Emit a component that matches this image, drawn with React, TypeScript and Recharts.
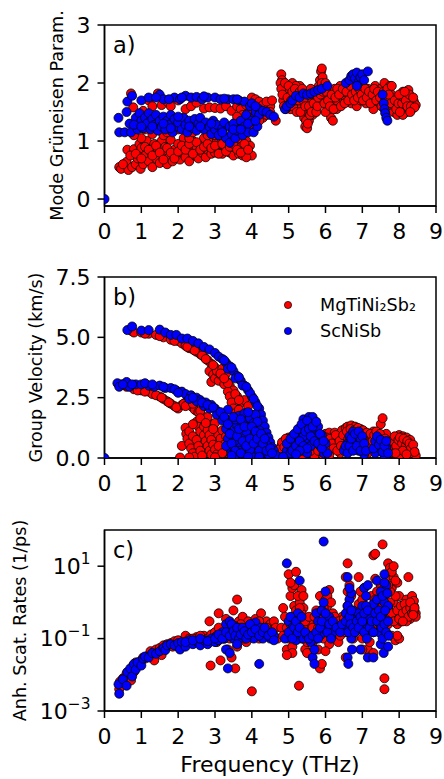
import React from "react";
import { ScatterChart, Scatter, XAxis, YAxis, ZAxis, ReferenceArea, Legend } from "recharts";

type Pt = [number, number];

const FONT = '"DejaVu Sans", sans-serif';
const RED = "#ff0000";
const BLUE = "#0000ff";

const freqTicks = [0, 1, 2, 3, 4, 5, 6, 7, 8, 9];
const gruneisenTicks = [0, 1, 2, 3];
const velocityTicks = [0, 2.5, 5, 7.5];
const rateTicks = [0.001, 0.1, 10];
const seriesNames = ["MgTiNi\u2082Sb\u2082", "ScNiSb"];

// a) mode Grüneisen parameter vs frequency
const gruneisenMg: Pt[] = [
  [0.4, 0.55], [0.45, 0.52], [0.6, 0.64], [0.65, 0.5], [0.62, 0.85], [0.75, 0.55], [0.8, 0.86], [0.85, 0.6],
  [0.9, 0.7], [0.95, 0.95], [0.98, 0.52], [1.0, 0.88], [1.05, 0.6], [1.1, 0.75], [1.15, 1.0], [1.2, 0.65],
  [1.25, 0.82], [1.3, 0.55], [1.35, 0.95], [1.4, 0.7], [1.45, 0.85], [1.5, 0.62], [1.55, 1.0], [1.6, 0.78],
  [1.65, 0.9], [1.7, 0.6], [1.75, 0.72], [1.8, 1.02], [1.85, 0.65], [1.9, 0.85], [1.95, 0.75], [2.0, 0.95],
  [2.05, 0.68], [2.1, 0.8], [2.15, 1.05], [2.2, 0.72], [2.25, 0.9], [2.3, 0.65], [2.35, 0.82], [2.4, 1.0],
  [2.45, 0.75], [2.5, 0.88], [2.55, 0.7], [2.6, 0.95], [2.65, 0.8], [2.7, 1.05], [2.75, 0.72], [2.8, 0.85],
  [2.85, 0.98], [2.9, 0.78], [2.95, 0.9], [3.0, 0.8], [3.05, 1.0], [3.1, 0.85], [3.15, 0.95], [3.2, 0.78],
  [3.3, 0.9], [3.35, 1.05], [3.4, 0.8], [3.45, 0.95], [3.5, 0.75], [3.55, 0.88], [3.6, 1.0], [3.65, 0.78],
  [3.7, 0.9], [3.75, 0.75], [3.8, 0.85], [3.85, 1.0], [3.9, 0.78], [3.95, 0.92], [4.0, 0.75], [3.85, 0.72],
  [0.5, 0.6], [0.7, 0.75], [0.85, 0.78], [1.0, 0.7], [1.1, 0.9], [1.2, 0.85], [1.3, 0.75], [1.4, 0.92],
  [1.5, 0.8], [1.6, 0.68], [1.7, 0.88], [1.8, 0.8], [1.9, 0.7], [2.0, 0.82], [2.1, 0.92], [2.2, 0.85],
  [2.3, 0.95], [2.4, 0.78], [2.5, 0.98], [2.6, 0.85], [2.7, 0.9], [2.8, 0.95], [2.9, 0.88], [3.0, 0.92],
  [3.1, 0.78], [3.2, 0.95], [3.3, 0.82], [3.4, 0.9], [3.5, 0.95], [3.6, 0.85], [3.7, 0.8], [3.8, 0.95],
  [3.9, 0.85], [1.0, 1.05], [1.6, 1.1], [2.3, 1.05], [3.0, 1.1], [3.7, 1.2], [4.3, 1.4], [4.05, 1.6],
  [0.8, 1.1], [0.9, 1.25], [1.0, 1.45], [1.1, 1.2], [1.3, 1.12], [1.5, 1.3], [1.7, 1.15], [2.0, 1.2],
  [2.4, 1.15], [2.8, 1.1], [3.2, 1.2], [3.5, 1.15], [3.6, 1.35], [3.8, 1.4], [3.9, 1.5], [4.0, 1.3],
  [4.1, 1.45], [4.2, 1.35], [4.3, 1.55], [4.4, 1.45], [4.5, 1.6], [4.65, 1.35], [4.5, 1.5],
  [0.72, 1.82], [0.78, 1.58], [1.05, 1.52], [1.2, 1.7], [1.3, 1.6], [1.45, 1.82], [1.55, 1.62], [1.7, 1.68],
  [1.8, 1.6], [2.0, 1.7], [2.2, 1.55], [2.35, 1.6], [2.5, 1.66], [2.7, 1.56], [2.85, 1.58], [3.0, 1.57],
  [3.15, 1.56], [3.3, 1.6], [3.45, 1.52], [3.6, 1.6], [3.7, 1.55], [3.85, 1.62], [4.0, 1.75], [4.1, 1.72],
  [4.2, 1.68], [4.3, 1.62], [4.4, 1.68], [4.55, 1.7], [3.75, 1.45], [3.6, 1.42],
  [4.8, 2.15], [4.82, 2.05], [4.85, 1.95], [4.88, 1.85], [4.9, 1.75], [4.95, 1.65], [4.85, 1.7], [5.0, 1.8],
  [5.05, 1.9], [5.1, 2.0], [5.15, 1.7], [5.2, 1.6], [5.25, 1.85], [5.3, 1.95], [5.35, 1.75], [5.4, 1.55],
  [5.42, 1.4], [5.45, 1.25], [5.5, 1.22], [5.5, 1.5], [5.55, 1.35], [5.6, 1.65], [5.65, 1.8], [5.7, 1.55],
  [5.75, 1.7], [5.8, 1.9], [5.85, 2.05], [5.88, 2.2], [5.9, 2.25], [5.92, 2.1], [5.95, 1.95], [6.0, 1.75],
  [6.05, 1.6], [6.1, 1.5], [6.15, 1.4], [6.2, 1.35], [6.0, 1.5], [6.1, 1.85], [6.2, 1.7], [6.25, 1.9],
  [6.3, 1.8], [6.35, 1.65], [6.4, 1.95], [6.45, 1.75], [6.5, 1.85], [6.55, 1.7], [6.6, 2.0], [6.65, 1.8],
  [6.7, 1.65], [6.75, 1.9], [6.8, 1.75], [6.85, 1.6], [6.9, 1.85], [6.95, 1.7], [7.0, 1.95], [7.05, 1.8],
  [7.1, 1.65], [7.15, 1.9], [7.2, 1.75], [7.25, 1.85], [7.3, 1.7], [7.35, 1.95], [7.4, 1.8], [7.45, 1.65],
  [7.5, 1.9], [7.55, 1.75], [7.6, 2.0], [7.65, 1.85], [7.7, 1.7], [7.75, 1.95], [7.8, 1.8], [7.82, 1.6],
  [7.85, 1.5], [7.9, 1.65], [7.95, 1.45], [8.0, 1.55], [8.05, 1.75], [8.1, 1.85], [8.15, 1.6], [8.2, 1.8],
  [8.25, 1.88], [8.3, 1.7], [8.35, 1.55], [8.4, 1.68], [8.45, 1.62], [8.2, 1.5], [8.1, 1.45], [5.05, 1.55],
  [5.3, 1.6], [5.65, 1.45], [6.3, 1.55], [6.85, 1.95], [7.3, 1.55], [4.95, 1.9], [5.2, 1.95], [5.0, 1.65],
  [4.78, 2.0], [4.8, 1.9], [4.83, 1.8], [4.87, 1.6], [4.9, 2.0], [4.92, 1.55], [4.97, 1.75], [5.0, 1.95],
  [5.02, 1.6], [5.07, 1.7], [5.1, 1.85], [5.12, 1.6], [5.17, 1.9], [5.2, 1.7], [5.22, 1.5], [5.27, 1.7],
  [5.3, 1.85], [5.32, 1.5], [5.37, 1.9], [5.4, 1.7], [5.45, 1.6], [5.47, 1.35], [5.52, 1.3], [5.55, 1.6],
  [5.58, 1.45], [5.6, 1.9], [5.62, 1.5], [5.68, 1.65], [5.72, 1.8], [5.75, 1.5], [5.78, 1.6], [5.8, 1.75],
  [5.82, 1.95], [5.87, 1.8], [5.9, 2.0], [5.93, 1.85], [5.97, 1.65], [6.0, 2.0], [6.02, 1.85], [6.07, 1.7],
  [6.12, 1.6], [6.17, 1.8], [6.22, 1.55], [6.27, 1.75], [6.32, 1.9], [6.37, 1.8], [6.42, 1.6], [6.47, 1.9],
  [6.52, 1.65], [6.57, 1.85], [6.62, 1.7], [6.68, 1.95], [6.72, 1.8], [6.78, 1.7], [6.82, 1.85], [6.88, 1.75],
  [6.92, 1.9], [6.98, 1.8], [7.02, 1.7], [7.08, 1.9], [7.12, 1.75], [7.18, 1.85], [7.22, 1.65], [7.28, 1.8],
  [7.32, 1.9], [7.38, 1.7], [7.42, 1.85], [7.48, 1.75], [7.52, 1.6], [7.58, 1.85], [7.62, 1.7], [7.68, 1.9],
  [7.72, 1.8], [7.78, 1.65], [7.8, 1.95], [7.88, 1.7], [7.92, 1.55], [7.98, 1.65], [8.02, 1.5], [8.08, 1.65],
  [8.12, 1.75], [8.18, 1.7], [8.22, 1.6], [8.28, 1.8], [8.32, 1.6], [8.38, 1.75], [8.42, 1.58], [8.3, 1.5],
  [8.0, 1.8], [8.15, 1.85],
];

const gruneisenSc: Pt[] = [
  [0, 0], [0.38, 1.4], [0.4, 1.15], [0.55, 1.15], [0.6, 1.5], [0.62, 1.68], [0.68, 1.3], [0.75, 1.78],
  [0.72, 1.15], [0.85, 1.4], [0.9, 1.2], [0.95, 1.48], [1.0, 1.7], [1.0, 1.35], [1.05, 1.22], [1.1, 1.4],
  [1.15, 1.3], [1.2, 1.75], [1.2, 1.48], [1.25, 1.2], [1.3, 1.38], [1.35, 1.28], [1.4, 1.45], [1.45, 1.18],
  [1.5, 1.8], [1.5, 1.35], [1.55, 1.25], [1.6, 1.72], [1.6, 1.42], [1.65, 1.2], [1.7, 1.35], [1.75, 1.28],
  [1.8, 1.45], [1.85, 1.15], [1.9, 1.75], [1.9, 1.38], [1.95, 1.25], [2.0, 1.32], [2.05, 1.72], [2.1, 1.2],
  [2.15, 1.4], [2.2, 1.78], [2.2, 1.28], [2.25, 1.15], [2.3, 1.35], [2.35, 1.75], [2.4, 1.22], [2.45, 1.38],
  [2.5, 1.76], [2.5, 1.18], [2.55, 1.3], [2.6, 1.4], [2.65, 1.72], [2.7, 1.2], [2.75, 1.32], [2.8, 1.75],
  [2.85, 1.25], [2.9, 1.12], [2.95, 1.35], [3.0, 1.75], [3.0, 1.2], [3.05, 1.28], [3.1, 1.1], [3.15, 1.72],
  [3.2, 1.22], [3.25, 1.32], [3.3, 1.05], [3.35, 1.72], [3.4, 0.97], [3.4, 1.25], [3.45, 1.12], [3.5, 1.72],
  [3.5, 1.3], [3.55, 1.05], [3.6, 1.18], [3.65, 1.7], [3.7, 1.35], [3.75, 1.1], [3.8, 1.68], [3.8, 1.25],
  [3.85, 1.45], [3.9, 1.15], [3.95, 1.6], [4.0, 1.35], [4.0, 1.65], [4.05, 1.15], [4.1, 1.5], [4.15, 1.25],
  [4.2, 1.55], [4.2, 1.45], [4.3, 1.52], [4.4, 1.5], [4.5, 1.45], [4.6, 1.42],
  [0.8, 1.28], [1.0, 1.25], [1.3, 1.25], [1.6, 1.3], [1.8, 1.22], [2.0, 1.42], [2.3, 1.25], [2.6, 1.25],
  [2.9, 1.3], [3.2, 1.15], [3.5, 1.2], [3.7, 1.2], [3.9, 1.3], [4.1, 1.35], [2.1, 1.75], [2.7, 1.77],
  [3.25, 1.73], [3.6, 1.72], [4.1, 1.6], [1.4, 1.75], [1.75, 1.72],
  [4.9, 1.55], [4.95, 1.6], [5.05, 1.65], [5.1, 1.7], [5.2, 1.78], [5.3, 1.75], [5.4, 1.82], [5.5, 1.8],
  [5.6, 1.82], [5.7, 1.85], [5.8, 1.88], [5.9, 1.9], [6.05, 1.95], [6.55, 2.0], [6.65, 2.05], [6.7, 2.12],
  [6.75, 2.15], [6.8, 2.08], [6.85, 2.18], [6.9, 2.02], [6.95, 2.1], [7.0, 2.15], [7.05, 2.05], [7.15, 2.2],
  [6.85, 1.95], [7.55, 1.8], [7.58, 1.65], [7.6, 1.55], [7.62, 1.48], [7.65, 1.4], [7.68, 1.35],
];

// b) group velocity (km/s)
const velocityMg: Pt[] = [
  [0.75, 5.25], [0.8, 5.2], [1.0, 5.2], [1.2, 5.15], [1.4, 5.1], [1.6, 5.0], [1.8, 4.9], [2.0, 4.85],
  [2.1, 4.75], [2.2, 4.65], [2.3, 4.55], [2.4, 4.5], [2.5, 4.4], [2.6, 4.3], [2.7, 4.2], [2.8, 4.05],
  [2.9, 3.9], [3.0, 3.75], [3.1, 3.55], [3.2, 3.4], [3.3, 3.2], [3.4, 3.0], [3.5, 2.8], [3.6, 2.55],
  [3.7, 2.3], [2.85, 3.6], [2.9, 3.15], [2.95, 3.45], [3.0, 3.3], [3.05, 3.6], [3.1, 3.2], [3.15, 3.45],
  [3.2, 3.7], [3.25, 3.05], [3.3, 3.5], [3.35, 2.75], [3.4, 2.55], [3.45, 2.3], [3.5, 2.05], [3.55, 1.85],
  [3.6, 1.6], [3.65, 2.0], [3.7, 1.75], [3.75, 1.4], [3.8, 2.4], [3.9, 2.15], [4.0, 1.8], [4.1, 1.5],
  [4.2, 1.2], [4.3, 0.9], [4.4, 0.6], [4.5, 0.3],
  [1.1, 5.15], [1.5, 5.05], [1.9, 4.85], [2.25, 4.6], [2.45, 4.45], [2.65, 4.25], [2.75, 4.1], [2.95, 3.85],
  [3.15, 3.5], [3.35, 3.1], [3.55, 2.65], [3.65, 2.4], [3.25, 3.3],
  [0.45, 3.05], [0.6, 2.95], [0.8, 2.85], [1.0, 2.8], [1.2, 2.75], [1.3, 2.65], [1.5, 2.55], [1.6, 2.45],
  [1.7, 2.35], [1.8, 2.25], [1.9, 2.15], [2.0, 2.05], [2.1, 2.2], [2.2, 2.3], [2.3, 2.2], [2.4, 2.1],
  [2.5, 1.95], [2.6, 1.8], [2.7, 1.65], [2.8, 1.5], [2.9, 1.3], [3.0, 1.1], [3.1, 0.9], [3.2, 0.7],
  [3.3, 0.45], [3.35, 0.2],
  [0.6, 3.0], [0.9, 2.8], [1.1, 2.75], [1.4, 2.6], [1.55, 2.5], [1.75, 2.3], [1.95, 2.1], [2.15, 2.25],
  [2.35, 2.15], [2.45, 2.0], [2.55, 1.9], [2.65, 1.75], [2.75, 1.6], [2.85, 1.4], [2.95, 1.25], [3.05, 1.0],
  [3.15, 0.8], [3.25, 0.55], [3.3, 0.3], [2.2, 2.15], [2.4, 2.25], [2.6, 1.95], [2.8, 1.7], [3.0, 1.45],
  [3.2, 1.15], [3.3, 0.9], [3.4, 0.65], [3.45, 0.35],
  [2.05, 0.02], [2.1, 0.5], [2.2, 1.25], [2.22, 1.0], [2.25, 0.8], [2.3, 0.6], [2.35, 0.4], [2.4, 0.2],
  [2.45, 0.05], [2.3, 1.1], [2.4, 0.9], [2.5, 0.75], [2.55, 0.5], [2.6, 0.3], [2.65, 0.1], [2.5, 1.5],
  [2.55, 1.3], [2.6, 1.1], [2.7, 0.95], [2.75, 0.7], [2.8, 0.5], [2.85, 0.3], [2.9, 0.15], [2.7, 1.3],
  [2.8, 1.15], [2.85, 0.95], [2.9, 0.75], [2.95, 0.55], [3.0, 0.35], [3.05, 0.15], [2.3, 0.02], [2.4, 1.4],
  [2.6, 1.65], [2.75, 1.45], [2.95, 1.2], [3.1, 0.5], [3.2, 0.2], [3.0, 0.03],
  [3.4, 0.5], [3.5, 1.0], [3.6, 0.3], [3.7, 0.8], [3.8, 0.2], [3.9, 1.2], [4.0, 0.5], [4.1, 0.1],
  [4.2, 0.7], [4.3, 0.3], [4.45, 0.1], [4.55, 0.05],
  [4.7, 0.1], [4.75, 0.3], [4.8, 0.5], [4.85, 0.2], [4.9, 0.7], [4.95, 0.4], [5.0, 0.85], [5.05, 0.6],
  [5.1, 0.9], [5.15, 0.3], [5.2, 0.75], [5.25, 0.5], [5.3, 0.15], [5.5, 0.2], [5.7, 0.1], [5.95, 0.05],
  [4.65, 0.05], [4.72, 0.2], [4.78, 0.4], [4.82, 0.65], [4.88, 0.45], [4.92, 0.8], [4.98, 0.6], [5.02, 0.3],
  [5.08, 0.7], [5.12, 0.5], [5.18, 0.85], [5.22, 0.3], [5.28, 0.6], [5.32, 0.35], [5.38, 0.1],
  [5.4, 0.4], [5.5, 0.6], [5.6, 0.3], [5.7, 0.5], [5.8, 0.7], [5.9, 0.4], [6.0, 0.3],
  [5.8, 0.3], [5.85, 0.6], [5.9, 0.9], [5.95, 0.45], [6.0, 1.0], [6.05, 0.7], [6.1, 1.05], [6.15, 0.3],
  [6.2, 0.85], [6.25, 1.05], [6.3, 0.6], [6.35, 0.9], [6.4, 0.2], [6.45, 1.15], [6.5, 0.7], [6.55, 1.25],
  [6.6, 1.3], [6.65, 1.0], [6.7, 1.35], [6.75, 0.5], [6.8, 1.3], [6.85, 1.1], [6.9, 0.8], [6.95, 1.2],
  [7.0, 0.4], [7.05, 1.05], [7.1, 0.7], [7.15, 0.2], [7.2, 0.9], [7.25, 0.5], [7.3, 1.1], [7.35, 0.8],
  [7.4, 1.05], [7.45, 0.3], [7.5, 1.4], [7.55, 1.65], [7.55, 0.9], [7.6, 0.6], [7.65, 1.0], [7.7, 0.2],
  [6.02, 0.85], [6.08, 0.5], [6.12, 0.8], [6.18, 0.6], [6.22, 0.4], [6.28, 0.95], [6.32, 0.3], [6.38, 0.7],
  [6.42, 0.5], [6.48, 0.95], [6.52, 0.4], [6.58, 1.1], [6.62, 0.8], [6.68, 1.2], [6.72, 0.9], [6.78, 1.15],
  [6.82, 0.6], [6.88, 1.25], [6.92, 1.05], [6.98, 0.9], [7.02, 1.15], [7.08, 0.95], [7.12, 1.05], [7.18, 0.6],
  [7.22, 1.0], [7.28, 0.7], [7.32, 0.95], [7.38, 1.1], [7.42, 0.6], [7.48, 1.0], [7.52, 0.7], [7.58, 0.4],
  [7.62, 0.8], [7.68, 0.5], [7.72, 0.35],
  [7.8, 0.5], [7.85, 0.2], [7.9, 0.8], [7.95, 0.6], [8.0, 0.95], [8.05, 0.3], [8.1, 0.9], [8.15, 0.7],
  [8.2, 0.85], [8.25, 0.4], [8.3, 0.75], [8.35, 0.5], [8.4, 0.3], [8.45, 0.1], [8.0, 0.1], [7.95, 0.35],
  [8.3, 0.2], [6.1, 0.1], [7.82, 0.7], [7.88, 0.9], [7.92, 0.5], [7.98, 0.75], [8.02, 0.85], [8.08, 0.6],
  [8.12, 0.8], [8.18, 0.5], [8.22, 0.7], [8.28, 0.6], [8.32, 0.4], [8.38, 0.55], [8.42, 0.25], [8.1, 0.3],
  [8.2, 0.15], [7.9, 0.2],
];

const velocitySc: Pt[] = [
  [0, 0], [0.62, 5.3], [0.75, 5.45], [1.0, 5.28], [1.2, 5.3], [1.5, 5.32], [1.65, 5.2], [1.8, 5.1],
  [1.95, 5.1], [2.1, 4.95], [2.25, 4.95], [2.4, 4.85], [2.55, 4.75], [2.7, 4.6], [2.85, 4.5], [3.0, 4.35],
  [3.1, 4.2], [3.2, 4.1], [3.3, 3.95], [3.4, 3.8], [3.5, 3.6], [3.6, 3.4], [3.7, 3.2], [3.8, 3.0],
  [3.9, 2.8], [4.0, 2.55], [4.1, 2.3], [4.2, 2.05], [4.25, 1.8], [4.3, 1.55], [4.35, 1.3], [4.4, 1.05],
  [4.45, 0.85], [4.5, 0.65], [4.55, 0.45], [4.6, 0.3], [4.65, 0.12], [3.35, 3.7], [3.55, 3.3], [3.75, 3.0],
  [3.95, 2.7], [3.25, 4.05], [3.45, 3.75], [3.65, 3.35], [3.85, 2.95], [4.05, 2.45], [4.15, 2.15],
  [0.35, 3.1], [0.4, 2.95], [0.6, 3.15], [0.68, 2.95], [0.85, 3.05], [1.0, 3.05], [1.2, 3.0], [1.35, 2.95],
  [1.5, 3.0], [1.65, 2.9], [1.8, 2.9], [1.95, 2.8], [2.1, 2.75], [2.2, 2.65], [2.35, 2.6], [2.5, 2.5],
  [2.6, 2.4], [2.75, 2.3], [2.9, 2.2], [3.0, 2.05], [3.1, 1.9], [3.2, 1.75], [3.3, 1.6], [3.35, 2.0],
  [2.3, 2.45], [2.5, 2.35], [2.7, 2.15], [2.85, 2.05], [3.05, 1.8], [3.2, 1.55],
  [0.5, 3.05], [0.75, 3.05], [1.1, 3.1], [1.3, 3.05], [1.6, 2.95], [1.9, 2.85], [2.0, 2.7], [2.4, 2.5],
  [2.65, 2.3], [2.8, 2.2], [2.95, 2.1], [3.15, 1.9], [3.25, 1.7],
  [3.3, 1.2], [3.35, 0.8], [3.4, 0.4], [3.45, 1.5], [3.5, 1.1], [3.5, 0.2], [3.55, 0.7], [3.6, 1.35],
  [3.6, 0.05], [3.65, 1.75], [3.7, 1.0], [3.7, 0.45], [3.75, 1.55], [3.8, 0.8], [3.8, 1.85], [3.85, 0.25],
  [3.9, 1.3], [3.9, 0.6], [3.95, 1.65], [4.0, 1.0], [4.0, 0.1], [4.05, 1.45], [4.1, 0.7], [4.1, 1.8],
  [4.15, 0.35], [4.2, 1.15], [4.25, 0.5], [4.3, 0.9], [4.35, 0.2], [4.4, 0.55], [4.45, 0.15], [3.55, 1.6],
  [3.75, 0.1], [4.05, 0.4], [3.4, 1.0], [3.65, 0.3], [3.85, 1.1], [4.15, 1.5], [3.95, 0.35],
  [3.3, 0.5], [3.35, 1.4], [3.45, 0.6], [3.5, 1.7], [3.55, 0.3], [3.6, 0.9], [3.65, 1.2], [3.7, 1.6],
  [3.75, 0.7], [3.8, 1.3], [3.85, 0.5], [3.9, 1.9], [3.95, 0.8], [4.0, 1.3], [4.05, 0.6], [4.1, 1.1],
  [4.15, 0.8], [4.2, 0.3], [4.25, 1.0], [4.3, 0.6], [4.35, 0.8], [4.4, 0.3], [3.45, 0.1], [3.7, 0.2],
  [3.9, 0.05], [4.2, 0.05], [4.5, 0.4], [4.55, 0.2],
  [4.9, 0.1], [4.95, 0.3], [5.0, 0.55], [5.05, 0.2], [5.1, 0.75], [5.15, 0.4], [5.2, 0.95], [5.25, 0.6],
  [5.3, 1.1], [5.35, 0.3], [5.4, 1.6], [5.45, 1.3], [5.5, 0.8], [5.55, 1.7], [5.6, 1.5], [5.65, 1.7],
  [5.7, 1.2], [5.75, 0.9], [5.8, 1.3], [5.85, 0.5], [5.9, 0.95], [5.95, 0.2], [6.0, 0.6], [6.05, 0.2],
  [5.5, 0.2], [5.6, 0.5], [5.4, 0.9],
  [4.85, 0.05], [4.95, 0.6], [5.05, 0.8], [5.1, 0.3], [5.15, 1.0], [5.2, 0.5], [5.25, 1.2], [5.3, 0.7],
  [5.35, 1.4], [5.4, 0.5], [5.45, 1.1], [5.5, 1.55], [5.55, 1.2], [5.6, 0.9], [5.65, 1.3], [5.7, 0.7],
  [5.75, 1.5], [5.8, 0.6], [5.85, 1.0], [5.9, 0.4], [5.95, 0.7], [5.5, 0.4], [5.3, 0.3], [5.2, 0.15],
  [6.5, 0.3], [6.6, 0.6], [6.65, 0.9], [6.7, 0.4], [6.75, 1.1], [6.8, 0.7], [6.85, 1.0], [6.9, 0.3],
  [6.95, 0.8], [7.0, 0.5], [7.05, 0.15], [7.35, 0.2], [7.4, 0.5], [7.45, 0.8], [7.5, 0.35], [7.55, 0.65],
  [7.6, 0.1], [7.65, 0.45], [6.55, 0.5], [6.6, 0.2], [6.65, 0.5], [6.7, 0.8], [6.75, 0.3], [6.8, 1.0],
  [6.85, 0.5], [6.9, 1.1], [6.95, 0.3], [7.0, 0.9], [7.05, 0.6], [7.1, 0.3], [7.3, 0.4], [7.35, 0.7],
  [7.4, 0.9], [7.45, 0.55], [7.5, 0.75], [7.55, 0.25], [7.6, 0.5], [7.65, 0.7], [7.7, 0.2],
];

// c) anharmonic scattering rates (1/ps)
const scatterMg: Pt[] = [
  [0.4, 0.004], [0.42, 0.0065], [0.5, 0.008], [0.55, 0.006], [0.6, 0.011], [0.65, 0.009], [0.7, 0.013],
  [0.72, 0.007], [0.78, 0.018], [0.8, 0.012], [0.85, 0.022], [0.9, 0.02], [1.0, 0.025], [1.05, 0.03],
  [1.1, 0.028], [1.2, 0.035], [1.25, 0.045], [1.3, 0.04], [1.35, 0.025], [1.4, 0.05], [1.5, 0.055],
  [1.55, 0.035], [1.6, 0.065], [1.7, 0.07], [1.8, 0.075], [1.85, 0.06], [1.9, 0.085], [2.0, 0.09],
  [2.1, 0.07], [2.2, 0.12], [2.3, 0.1], [2.4, 0.075], [2.5, 0.11], [2.6, 0.09], [2.7, 0.12], [2.8, 0.1],
  [2.85, 0.3], [2.88, 0.018], [2.9, 0.13], [3.0, 0.15], [3.05, 0.08], [3.1, 0.5], [3.15, 0.025],
  [3.2, 0.18], [3.25, 0.1], [3.3, 0.35], [3.35, 0.05], [3.4, 0.25], [3.45, 0.03], [3.5, 0.6],
  [3.55, 0.015], [3.55, 0.2], [3.6, 1.2], [3.6, 0.06], [3.65, 0.3], [3.7, 0.12], [3.75, 0.4], [3.8, 0.2],
  [3.85, 0.08], [3.9, 0.3], [3.95, 0.15], [4.0, 0.0035], [4.0, 0.25], [4.05, 0.12], [4.1, 0.35],
  [4.15, 0.18], [4.2, 0.1], [4.25, 0.5], [4.3, 0.22], [4.35, 0.13], [4.4, 0.3], [4.45, 0.15], [4.5, 0.25],
  [4.6, 0.18], [4.7, 0.1],
  [2.0, 0.06], [2.2, 0.08], [2.4, 0.1], [2.6, 0.12], [2.8, 0.08], [3.0, 0.11], [3.1, 0.2], [3.2, 0.12],
  [3.3, 0.15], [3.4, 0.1], [3.5, 0.2], [3.6, 0.15], [3.7, 0.25], [3.8, 0.1], [3.9, 0.2], [4.0, 0.12],
  [4.1, 0.2], [4.2, 0.3], [4.3, 0.15], [4.4, 0.2], [4.5, 0.12], [4.6, 0.3], [4.65, 0.2],
  [4.85, 0.7], [4.9, 0.15], [4.95, 0.05], [5.0, 6], [5.0, 0.3], [5.05, 1.5], [5.1, 2.5], [5.1, 0.06],
  [5.15, 0.8], [5.2, 7], [5.2, 0.2], [5.25, 0.5], [5.28, 0.005], [5.3, 1.0], [5.35, 2.2], [5.35, 0.1],
  [5.4, 0.7], [5.45, 0.05], [5.5, 0.3], [5.55, 0.12], [5.6, 0.25], [5.65, 0.08], [5.7, 0.15], [5.75, 0.6],
  [5.8, 0.05], [5.85, 0.015], [5.85, 1.5], [5.9, 0.3], [5.95, 0.1], [6.0, 1.2], [6.05, 0.4], [6.1, 2.2],
  [6.1, 0.07], [6.15, 0.2], [6.2, 0.5], [6.25, 0.12], [6.3, 0.3], [6.35, 0.08], [6.4, 0.25], [6.45, 0.4],
  [6.5, 0.15], [6.55, 0.03], [6.55, 5], [6.6, 12], [6.6, 0.8], [6.65, 0.25], [6.7, 1.5], [6.75, 0.1],
  [6.8, 0.5], [6.85, 0.2], [6.9, 5], [6.9, 0.9], [6.95, 0.3], [7.0, 0.1], [7.05, 2.5], [7.1, 0.6],
  [7.15, 0.05], [7.2, 0.3], [7.25, 1.5], [7.3, 20], [7.35, 22], [7.3, 0.04], [7.35, 4.5], [7.4, 0.8],
  [7.45, 0.2], [7.5, 3], [7.5, 0.5], [7.55, 40], [7.55, 0.15], [7.6, 0.008], [7.6, 0.004], [7.6, 1.5],
  [7.65, 5], [7.7, 12], [7.7, 0.7], [7.75, 9], [7.75, 0.3], [7.8, 2.5], [7.8, 0.12], [7.85, 5],
  [7.85, 1.0], [7.9, 0.4], [7.9, 0.09], [7.95, 3.5], [7.95, 0.25], [8.0, 1.5], [8.0, 0.5], [8.05, 0.3],
  [8.1, 0.8], [8.15, 0.4], [8.2, 1.2], [8.25, 5], [8.25, 0.6], [8.3, 0.35], [8.35, 1.5], [8.4, 0.8],
  [8.45, 0.5], [8.4, 1.1], [8.2, 0.3],
  [4.8, 0.2], [4.85, 0.12], [4.9, 0.4], [4.95, 0.2], [5.0, 0.1], [5.05, 0.25], [5.1, 0.4], [5.15, 0.15],
  [5.2, 0.6], [5.25, 0.1], [5.3, 0.3], [5.35, 0.5], [5.4, 0.2], [5.45, 0.3], [5.5, 0.08], [5.55, 0.4],
  [5.6, 0.1], [5.65, 0.2], [5.7, 0.4], [5.75, 0.1], [5.8, 0.2], [5.85, 0.4], [5.9, 0.6], [5.95, 0.25],
  [6.0, 0.15], [6.05, 0.8], [6.1, 0.3], [6.15, 0.12], [6.2, 0.25], [6.25, 0.4], [6.3, 0.15], [6.35, 0.3],
  [6.4, 0.12], [6.45, 0.2], [6.5, 0.35], [6.55, 0.15], [6.6, 0.4], [6.65, 0.6], [6.7, 0.3], [6.75, 0.2],
  [6.8, 0.15], [6.85, 0.4], [6.9, 0.25], [6.95, 0.6], [7.0, 0.3], [7.05, 0.15], [7.1, 0.35], [7.15, 0.2],
  [7.2, 0.6], [7.25, 0.3], [7.3, 0.15], [7.35, 0.6], [7.4, 0.3], [7.45, 0.5], [7.5, 0.2], [7.55, 0.8],
  [7.6, 0.3], [7.65, 0.5], [7.7, 0.25], [7.75, 1.0], [7.8, 0.5], [7.85, 0.3], [7.9, 1.5], [7.95, 0.6],
  [8.0, 0.35], [8.05, 0.8], [8.1, 0.5], [8.15, 0.9], [8.2, 0.6], [8.25, 0.4], [8.3, 0.7], [8.35, 0.5],
  [8.4, 0.6], [8.45, 0.4], [8.1, 0.3], [8.3, 1.0], [8.42, 0.7], [8.38, 0.45], [7.8, 7], [7.9, 4],
  [7.85, 10], [7.75, 2.0], [7.7, 3], [7.5, 1.2], [7.4, 2], [7.35, 1.2], [7.6, 2.5], [7.0, 1.2],
  [6.95, 2.0], [6.65, 3], [6.6, 2.0], [5.3, 0.7], [5.25, 1.5], [5.15, 3], [5.05, 3.5], [5.4, 1.5],
  [6.05, 1.5], [6.15, 1.0], [5.95, 0.7], [6.0, 0.045], [5.5, 0.04], [5.9, 0.02], [5.1, 0.04], [4.95, 0.035],
  [7.0, 0.05], [7.2, 0.08], [8.0, 0.1], [7.95, 0.12],
];

const scatterSc: Pt[] = [
  [0.4, 0.003], [0.38, 0.0055], [0.5, 0.0075], [0.6, 0.005], [0.62, 0.012], [0.7, 0.015], [0.75, 0.009],
  [0.8, 0.02], [0.85, 0.014], [0.9, 0.022], [1.0, 0.018], [1.05, 0.028], [1.1, 0.032], [1.2, 0.03],
  [1.3, 0.04], [1.4, 0.038], [1.5, 0.045], [1.6, 0.055], [1.65, 0.048], [1.7, 0.065], [1.8, 0.07],
  [1.9, 0.065], [2.0, 0.075], [2.05, 0.05], [2.1, 0.08], [2.2, 0.06], [2.3, 0.09], [2.4, 0.07],
  [2.5, 0.085], [2.6, 0.065], [2.7, 0.09], [2.8, 0.07], [2.9, 0.1], [3.0, 0.08], [3.05, 0.12], [3.1, 0.09],
  [3.2, 0.15], [3.25, 0.1], [3.3, 0.25], [3.35, 0.015], [3.35, 0.13], [3.4, 0.3], [3.45, 0.18], [3.5, 0.1],
  [3.55, 0.22], [3.6, 0.14], [3.7, 0.2], [3.8, 0.12], [3.9, 0.18], [4.0, 0.22], [4.05, 0.1], [4.1, 0.28],
  [4.15, 0.14], [4.2, 0.02], [4.25, 0.2], [4.3, 0.1], [4.4, 0.15], [4.5, 0.1], [4.6, 0.12],
  [2.2, 0.08], [2.4, 0.09], [2.6, 0.1], [2.8, 0.085], [3.0, 0.1], [3.1, 0.13], [3.2, 0.1], [3.3, 0.15],
  [3.4, 0.12], [3.45, 0.25], [3.5, 0.16], [3.55, 0.12], [3.6, 0.2], [3.65, 0.1], [3.7, 0.13], [3.75, 0.2],
  [3.8, 0.16], [3.85, 0.1], [3.9, 0.13], [3.95, 0.25], [4.0, 0.15], [4.1, 0.18], [4.2, 0.12], [4.3, 0.15],
  [4.35, 0.2], [4.45, 0.12], [4.55, 0.15], [4.6, 0.09], [3.3, 0.05], [3.4, 0.04], [3.6, 0.07],
  [4.95, 12], [5.0, 0.3], [5.05, 0.12], [5.1, 0.2], [5.15, 0.35], [5.2, 0.09], [5.25, 0.5], [5.3, 4],
  [5.35, 0.15], [5.4, 0.1], [5.5, 0.12], [5.6, 0.08], [5.65, 0.03], [5.7, 0.02], [5.75, 0.5], [5.8, 0.3],
  [5.85, 0.12], [5.9, 0.6], [5.95, 48], [6.0, 2.0], [6.05, 0.2], [6.1, 0.4], [6.2, 0.15], [6.5, 0.2],
  [6.55, 0.5], [6.6, 5], [6.6, 0.03], [6.62, 0.02], [6.65, 1.2], [6.7, 1.8], [6.7, 0.1], [6.75, 0.6],
  [6.8, 0.35], [6.9, 0.5], [6.95, 0.05], [7.0, 0.8], [7.05, 2.5], [7.1, 1.5], [7.1, 0.2], [7.15, 0.03],
  [7.2, 0.4], [7.3, 0.03], [7.3, 0.9], [7.4, 1.2], [7.45, 0.15], [7.5, 2.0], [7.5, 0.07], [7.55, 0.5],
  [7.58, 0.04], [7.6, 6], [7.6, 1.0], [7.65, 3], [7.65, 0.3], [7.7, 0.06], [7.7, 0.8],
  [4.9, 0.1], [5.0, 0.15], [5.05, 0.4], [5.1, 0.1], [5.15, 0.2], [5.2, 0.3], [5.25, 0.15], [5.3, 0.2],
  [5.35, 0.4], [5.45, 0.15], [5.55, 0.1], [5.65, 0.12], [5.7, 0.05], [5.75, 0.15], [5.8, 0.1], [5.85, 0.2],
  [5.9, 0.3], [5.95, 1.0], [6.0, 0.5], [6.05, 0.15], [6.1, 0.25], [6.15, 0.1], [6.2, 0.3], [6.3, 0.2],
  [6.4, 0.15], [6.45, 0.25], [6.55, 0.3], [6.6, 0.8], [6.62, 0.15], [6.65, 0.4], [6.68, 0.25], [6.7, 0.6],
  [6.72, 0.05], [6.75, 0.2], [6.8, 0.15], [6.85, 0.3], [6.9, 0.2], [6.95, 0.4], [7.0, 0.3], [7.05, 0.5],
  [7.05, 0.15], [7.1, 0.8], [7.12, 0.1], [7.15, 0.6], [7.2, 0.2], [7.25, 0.3], [7.3, 0.15], [7.35, 0.5],
  [7.4, 0.3], [7.45, 0.6], [7.5, 0.4], [7.52, 0.2], [7.55, 1.5], [7.55, 0.1], [7.6, 0.25], [7.62, 0.6],
  [7.65, 0.15], [7.68, 1.8], [7.7, 0.3], [7.72, 0.12], [6.65, 2.5], [7.15, 3], [7.4, 4], [7.6, 3.5],
];

const toPts = (a: Pt[]) => a.map(([x, y]) => ({ x, y }));

const tickStyle = { fill: "#000", fontSize: 22, fontFamily: FONT };
const axisStroke = { stroke: "#000", strokeWidth: 1.5 };

// y title (rotated) plus the panel tag, drawn in the chart's own svg
const sideText = (title: string, baselineX: number, tag: string) => () => (
  <g>
    <text
      x={baselineX}
      y={115.5}
      transform={`rotate(-90 ${baselineX} 115.5)`}
      textAnchor="middle"
      fontSize={17.6}
      fontFamily={FONT}
      fill="#000"
    >
      {title}
    </text>
    <text x={113} y={53} fontSize={22.5} fontFamily={FONT} fill="#000">
      {tag}
    </text>
  </g>
);

const LogTick = (p: any) => {
  const { x, y, payload } = p;
  const e = Math.round(Math.log10(payload.value));
  return (
    <text x={x} y={y} textAnchor="end" fontFamily={FONT} fill="#000">
      <tspan fontSize={22} dy="0.355em">10</tspan>
      <tspan fontSize={15.4} dy={-10}>{e < 0 ? "\u2212" + -e : String(e)}</tspan>
    </text>
  );
};

const LegendBox = () => (
  <div style={{ fontFamily: FONT, fontSize: 17.6, color: "#000" }}>
    {seriesNames.map((n, i) => (
      <div key={n} style={{ display: "flex", alignItems: "center", height: 26 }}>
        <svg width={16} height={16}>
          <circle cx={8} cy={8} r={3.6} fill={i === 0 ? RED : BLUE} stroke="#000" strokeWidth={0.7} />
        </svg>
        <span style={{ marginLeft: 24, whiteSpace: "nowrap" }}>{n}</span>
      </div>
    ))}
  </div>
);

type PanelProps = {
  top: number;
  height: number;
  xAxisHeight: number;
  yDomain: [number, number];
  yTicks: number[];
  log?: boolean;
  title: string;
  titleX: number;
  tag: string;
  mg: Pt[];
  sc: Pt[];
  legend?: boolean;
  xTitle?: string;
};

function Panel(p: PanelProps) {
  return (
    <div style={{ position: "absolute", left: 0, top: p.top }}>
      <ScatterChart width={444} height={p.height} margin={{ top: 25, right: 8, bottom: 0, left: 0 }}>
        <XAxis
          type="number"
          dataKey="x"
          domain={[0, 9]}
          ticks={freqTicks}
          allowDataOverflow
          height={p.xAxisHeight}
          tick={tickStyle}
          tickSize={7}
          tickMargin={10}
          axisLine={axisStroke}
          tickLine={axisStroke}
          label={
            p.xTitle
              ? {
                  content: () => (
                    <text x={270} y={267} textAnchor="middle" fontSize={22} fontFamily={FONT} fill="#000">
                      {p.xTitle}
                    </text>
                  ),
                }
              : undefined
          }
        />
        <YAxis
          type="number"
          dataKey="y"
          scale={p.log ? "log" : "auto"}
          domain={p.yDomain}
          ticks={p.yTicks}
          allowDataOverflow
          width={104.5}
          tick={p.log ? <LogTick /> : tickStyle}
          tickFormatter={p.log ? undefined : (v: number) => (p.yTicks[1] === 2.5 ? v.toFixed(1) : String(v))}
          tickSize={7}
          tickMargin={7}
          axisLine={axisStroke}
          tickLine={axisStroke}
          label={{ content: sideText(p.title, p.titleX, p.tag) }}
        />
        <ZAxis range={[64, 64]} />
        <Scatter name={seriesNames[0]} data={toPts(p.mg)} fill={RED} stroke="#000" strokeWidth={0.8} isAnimationActive={false} />
        <Scatter name={seriesNames[1]} data={toPts(p.sc)} fill={BLUE} stroke="#000" strokeWidth={0.8} isAnimationActive={false} />
        <ReferenceArea x1={0} x2={9} y1={p.yDomain[0]} y2={p.yDomain[1]} fill="none" stroke="#000" strokeWidth={1.5} />
        {p.legend && (
          <Legend
            layout="vertical"
            align="center"
            verticalAlign="middle"
            content={<LegendBox />}
            wrapperStyle={{ left: 280, top: 40, width: 160 }}
          />
        )}
      </ScatterChart>
    </div>
  );
}

export default function App() {
  return (
    <div style={{ position: "absolute", left: 0, top: 0, width: 444, height: 779, background: "#fff" }}>
      <Panel top={0} height={250} xAxisHeight={44} yDomain={[-0.12, 3]} yTicks={gruneisenTicks}
        title="Mode Grüneisen Param." titleX={63} tag="a)" mg={gruneisenMg} sc={gruneisenSc} />
      <Panel top={252} height={250} xAxisHeight={44} yDomain={[0, 7.5]} yTicks={velocityTicks}
        title="Group Velocity (km/s)" titleX={42} tag="b)" mg={velocityMg} sc={velocitySc} legend />
      <Panel top={505} height={274} xAxisHeight={68} yDomain={[0.001, 100]} yTicks={rateTicks} log
        title="Anh. Scat. Rates (1/ps)" titleX={25.5} tag="c)" mg={scatterMg} sc={scatterSc}
        xTitle="Frequency (THz)" />
    </div>
  );
}
